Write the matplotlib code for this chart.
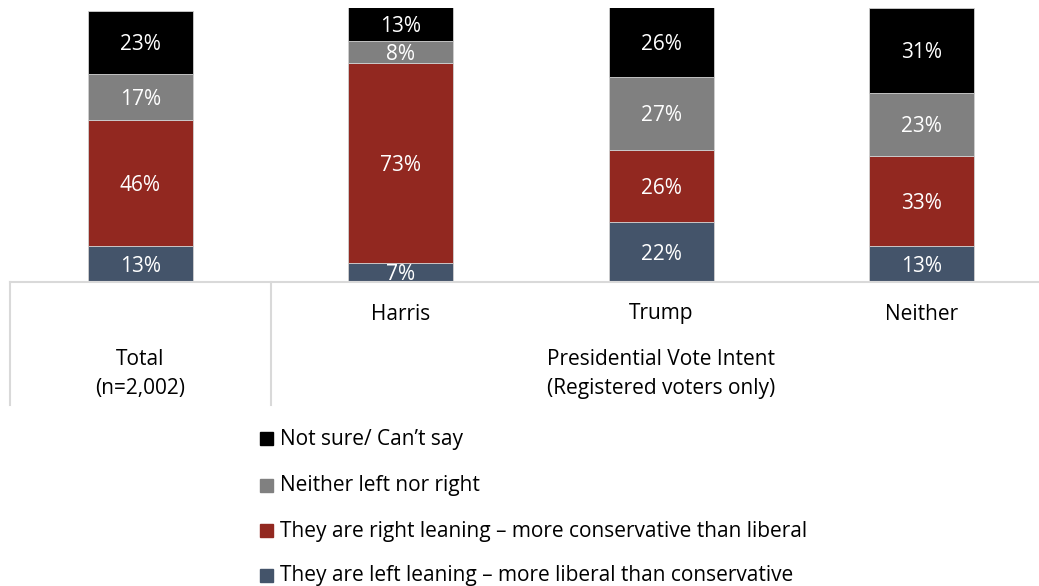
import matplotlib
matplotlib.use("Agg")
import matplotlib.pyplot as plt
from matplotlib.lines import Line2D
from matplotlib.patches import Rectangle
from matplotlib.transforms import offset_copy

plt.rcParams['font.family'] = ['Open Sans', 'DejaVu Sans']

# Data
categories = ["Total", "Harris", "Trump", "Neither"]
series_names = [
    "They are left leaning \u2013 more liberal than conservative",
    "They are right leaning \u2013 more conservative than liberal",
    "Neither left nor right",
    "Not sure/ Can\u2019t say",
]
left_leaning = [13, 7, 22, 13]
right_leaning = [46, 73, 26, 33]
neither_lr = [17, 8, 27, 23]
not_sure = [23, 13, 26, 31]
series_values = [left_leaning, right_leaning, neither_lr, not_sure]
colors = ["#44546A", "#922820", "#808080", "#000000"]

W, H = 1039, 586
fig = plt.figure(figsize=(W / 100, H / 100), dpi=100)

# Axes spans four category slots; the right part runs past the figure edge
ax_left, ax_right = 10, 1052
ax_top, ax_bottom = 8, 282
slot = (ax_right - ax_left) / len(categories)
ax = fig.add_axes([ax_left / W, 1 - ax_bottom / H,
                   (ax_right - ax_left) / W, (ax_bottom - ax_top) / H])
ax.set_xlim(-0.5, len(categories) - 0.5)
ax.set_ylim(0, 100)
ax.axis("off")

# value labels sit a touch below the geometric centre of each segment
label_tf = offset_copy(ax.transData, fig=fig, x=0, y=-2.5, units="dots")

x = list(range(len(categories)))
bar_w = 105 / slot
fs = 15
bottoms = [0] * len(categories)
for vals, col in zip(series_values, colors):
    ax.bar(x, vals, width=bar_w, bottom=bottoms, color=col,
           edgecolor="#D0D0D0", linewidth=0.6, zorder=2)
    for i, v in enumerate(vals):
        lo = bottoms[i]
        hi = min(bottoms[i] + v, 100)
        ax.text(x[i], (lo + hi) / 2, f"{v}%", ha="center", va="center",
                color="white", fontsize=fs, zorder=3, transform=label_tf)
    bottoms = [b + v for b, v in zip(bottoms, vals)]

# Category table lines below the bars
line_col = "#D9D9D9"
fig.add_artist(Line2D([10 / W, 1.0], [1 - 282 / H, 1 - 282 / H],
                      color=line_col, lw=1.5, transform=fig.transFigure,
                      zorder=5))
for xv in (10, 271):
    fig.add_artist(Line2D([xv / W, xv / W], [1 - 282 / H, 1 - 405 / H],
                          color=line_col, lw=1.5, transform=fig.transFigure))

# Category labels
for i, name in enumerate(categories[1:], start=1):
    fig.text((ax_left + (i + 0.5) * slot) / W, 1 - 314 / H, name,
             ha="center", va="center", fontsize=fs, color="#000000")

fig.text(140.5 / W, 1 - 374 / H, "Total\n(n=2,002)", ha="center", va="center",
         fontsize=fs, linespacing=1.48)
fig.text(661 / W, 1 - 374 / H, "Presidential Vote Intent\n(Registered voters only)",
         ha="center", va="center", fontsize=fs, linespacing=1.48)

# Legend, drawn top-down from the last series
leg_y = [438, 485, 530, 575]
for yy, idx in zip(leg_y, [3, 2, 1, 0]):
    fig.add_artist(Rectangle((260 / W, 1 - (yy + 6.5) / H), 13 / W, 13 / H,
                             color=colors[idx], transform=fig.transFigure))
    fig.text(280 / W, 1 - (yy + 1) / H, series_names[idx], ha="left", va="center",
             fontsize=fs)

fig.savefig("out.png", dpi=100)
